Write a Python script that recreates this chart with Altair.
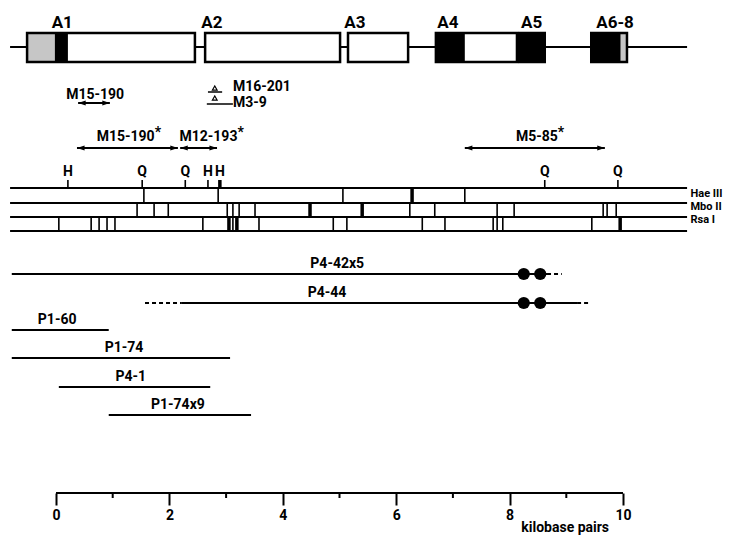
import altair as alt
import pandas as pd

# ---------------- values (kilobase pairs) ----------------
GENE_START, GENE_END = -0.81, 11.13

EXON_NAMES = ["A1", "A2", "A3", "A4", "A5", "A6-8"]
EXON_START = [-0.51, 2.63, 5.15, 6.70, 8.17, 9.44]
EXON_END = [2.45, 5.01, 6.21, 8.13, 8.62, 10.07]
EXON_LABEL_AT = [0.11, 2.75, 5.27, 6.91, 8.39, 9.86]

SHADE_START = [-0.51, -0.02, 6.70, 8.17, 9.44, 9.96]
SHADE_END = [-0.02, 0.21, 7.21, 8.62, 9.96, 10.07]
SHADE_KIND = ["stippled", "solid", "solid", "solid", "solid", "stippled"]

DEL_NAMES = ["M15-190", "M15-190", "M12-193", "M5-85"]
DEL_STAR = [False, True, True, True]
DEL_START = [0.39, 0.37, 2.19, 7.21]
DEL_END = [0.95, 2.15, 2.84, 9.68]
DEL_LABEL_AT = [0.69, 1.74, 3.20, 8.85]
DEL_ROW = ["upper", "lower", "lower", "lower"]

INS_NAMES = ["M16-201", "M3-9"]
INS_AT = [2.80, 2.80]
INS_START = [2.68, 2.66]
INS_END = [2.93, 3.12]
INS_LABEL_AT = [3.12, 3.12]

SITE_LETTERS = ["H", "Q", "Q", "H", "H", "Q", "Q"]
SITE_AT = [0.21, 1.52, 2.28, 2.68, 2.89, 8.62, 9.91]
SITE_HEAVY = [0, 0, 0, 0, 1, 0, 0]

ENZYME_NAMES = ["Hae III", "Mbo II", "Rsa I"]
HAEIII_CUTS = [1.55, 2.86, 5.06, 6.28, 7.21]
HAEIII_HEAVY = [0, 0, 0, 1, 0]
MBOII_CUTS = [1.43, 1.73, 1.98, 3.02, 3.12, 3.23, 3.51, 4.48, 5.40, 6.24,
              6.68, 7.78, 8.08, 9.65, 9.72, 9.88]
MBOII_HEAVY = [0, 0, 0, 0, 0, 0, 0, 1, 1, 0, 0, 0, 0, 0, 0, 0]
RSAI_CUTS = [0.05, 0.62, 0.76, 0.90, 1.04, 2.59, 3.05, 3.12, 3.19, 3.58,
             4.89, 5.13, 6.46, 6.86, 7.71, 7.78, 7.88, 9.45, 9.95]
RSAI_HEAVY = [0, 0, 0, 0, 0, 0, 1, 0, 1, 0, 0, 0, 0, 0, 0, 0, 0, 0, 1]

CLONE_NAMES = ["P4-42x5", "P4-44", "P1-60", "P1-74", "P4-1", "P1-74x9"]
CLONE_START = [-0.78, 2.22, -0.78, -0.78, 0.05, 0.93]
CLONE_END = [8.66, 9.19, 0.93, 3.07, 2.72, 3.44]
CLONE_LABEL_AT = [4.96, 4.78, 0.02, 1.20, 1.32, 2.15]
DASH_CLONE = ["P4-42x5", "P4-44", "P4-44"]
DASH_START = [8.66, 1.57, 9.19]
DASH_END = [8.92, 2.22, 9.42]
DOT_CLONE = ["P4-42x5", "P4-42x5", "P4-44", "P4-44"]
DOT_AT = [8.25, 8.54, 8.25, 8.54]

AXIS_LABELS = [0, 2, 4, 6, 8, 10]
AXIS_MINOR = [1, 3, 5, 7, 9]
AXIS_TITLE = "kilobase pairs"
AXIS_TITLE_AT = 8.98

# ---------------- layout (vertical rows, page pixels) ----------------
W, H = 723, 527
Y_TOP = 8
PX_PER_KB = 56.7
X_MIN = -48 / PX_PER_KB
X_MAX = X_MIN + W / PX_PER_KB
ROW = dict(exon_label=23, exon_top=33, exon_bottom=62, gene=47,
           del_upper=103, del_upper_label=95, del_lower=148, del_lower_label=137,
           ins_tri=[88, 98], ins_line=[92, 104], ins_label=[87, 103],
           site_label=172, site_tick=180, map_lines=[188, 203, 217, 231],
           enzyme_label=[194, 207, 220], enzyme_x=11.19,
           clone=[274, 303, 330, 358, 387, 415], clone_label_gap=10,
           axis=493, minor_tick=498, axis_title=528)
FONT = "Roboto, Liberation Sans, sans-serif"
INK = "black"

xs = alt.Scale(domain=[X_MIN, X_MAX], nice=False, zero=False)
ys = alt.Scale(domain=[Y_TOP, Y_TOP + H], nice=False, zero=False, reverse=True)
xaxis = alt.Axis(values=AXIS_LABELS, orient="bottom", offset=ROW["axis"] - (Y_TOP + H),
                 domain=False, grid=False, ticks=True, tickSize=12, tickWidth=2,
                 tickColor=INK, labelColor=INK, labelFont=FONT, labelFontSize=14,
                 labelFontWeight="bold", labelPadding=3, labelFlush=False,
                 labelOverlap=False, format="d", title=None)


def X(f="x"):
    return alt.X(f"{f}:Q", scale=xs, axis=xaxis)


def Yc(f="y"):
    return alt.Y(f"{f}:Q", scale=ys, axis=None)


def text(df, align="center", size=14, weight="bold", dy=0):
    return alt.Chart(df).mark_text(align=align, baseline="middle", font=FONT, fontSize=size,
                                   fontWeight=weight, color=INK, dy=dy).encode(
        x=X(), y=Yc(), text="t:N")


def rules(df, width=2, dash=None):
    kw = dict(color=INK, strokeWidth=width)
    if dash:
        kw["strokeDash"] = dash
    enc = dict(x=X(), y=Yc())
    if "x2" in df:
        enc["x2"] = alt.X2("x2")
    if "y2" in df:
        enc["y2"] = alt.Y2("y2")
    return alt.Chart(df).mark_rule(**kw).encode(**enc)


layers = []

# --- gene structure ---
layers.append(rules(pd.DataFrame({"x": [GENE_START], "x2": [GENE_END], "y": [ROW["gene"]]}), 2))
exons = pd.DataFrame({"x": EXON_START, "x2": EXON_END,
                      "y": ROW["exon_top"], "y2": ROW["exon_bottom"]})
layers.append(alt.Chart(exons).mark_rect(color="white").encode(
    x=X(), x2="x2", y=Yc(), y2="y2"))
shade = pd.DataFrame({"x": SHADE_START, "x2": SHADE_END, "k": SHADE_KIND,
                      "y": ROW["exon_top"], "y2": ROW["exon_bottom"]})
layers.append(alt.Chart(shade).mark_rect().encode(
    x=X(), x2="x2", y=Yc(), y2="y2",
    color=alt.Color("k:N", scale=alt.Scale(domain=["stippled", "solid"],
                                           range=["#c6c6c6", "black"]), legend=None)))
layers.append(alt.Chart(exons).mark_rect(fillOpacity=0, stroke=INK, strokeWidth=2.5).encode(
    x=X(), x2="x2", y=Yc(), y2="y2"))
layers.append(text(pd.DataFrame({"x": EXON_LABEL_AT, "t": EXON_NAMES, "y": ROW["exon_label"]}),
                   size=17))

# --- deletions (double arrows) ---
dels = pd.DataFrame({"name": DEL_NAMES, "star": DEL_STAR, "x": DEL_START, "x2": DEL_END,
                     "lab": DEL_LABEL_AT, "row": DEL_ROW})
dels["y"] = [ROW["del_upper"] if r == "upper" else ROW["del_lower"] for r in DEL_ROW]
dels["ly"] = [ROW["del_upper_label"] if r == "upper" else ROW["del_lower_label"] for r in DEL_ROW]
layers.append(rules(dels[["x", "x2", "y"]], 2))
HEAD_R = "M0,0L-1,-0.32L-1,0.32Z"
HEAD_L = "M0,0L1,-0.32L1,0.32Z"
layers.append(alt.Chart(pd.DataFrame({"x": DEL_START, "y": dels["y"]})).mark_point(
    shape=HEAD_L, filled=True, size=230, color=INK, opacity=1).encode(x=X(), y=Yc()))
layers.append(alt.Chart(pd.DataFrame({"x": DEL_END, "y": dels["y"]})).mark_point(
    shape=HEAD_R, filled=True, size=230, color=INK, opacity=1).encode(x=X(), y=Yc()))
plain = dels[~dels["star"]]
layers.append(text(pd.DataFrame({"x": plain["lab"], "y": plain["ly"], "t": plain["name"]})))
starred = dels[dels["star"]]
layers.append(text(pd.DataFrame({"x": starred["lab"], "y": starred["ly"], "t": starred["name"]}),
                   align="right"))
layers.append(text(pd.DataFrame({"x": starred["lab"], "y": starred["ly"], "t": "*"}),
                   align="left", size=14, dy=-4))

# --- insertions ---
ins = pd.DataFrame({"x": INS_START, "x2": INS_END, "y": ROW["ins_line"]})
layers.append(rules(ins, 1.5))
layers.append(alt.Chart(pd.DataFrame({"x": INS_AT, "y": ROW["ins_tri"]})).mark_point(
    shape="triangle-up", filled=False, size=22, color=INK, strokeWidth=1.2, opacity=1).encode(
    x=X(), y=Yc()))
layers.append(text(pd.DataFrame({"x": INS_LABEL_AT, "y": ROW["ins_label"], "t": INS_NAMES}),
                   align="left"))

# --- restriction map ---
map_lines = pd.DataFrame({"x": GENE_START, "x2": GENE_END, "y": ROW["map_lines"]})
layers.append(rules(map_lines, 2))
sites = pd.DataFrame({"x": SITE_AT, "t": SITE_LETTERS, "heavy": SITE_HEAVY})
sites["y"] = ROW["site_tick"]
sites["y2"] = ROW["map_lines"][0]
sites["w"] = [3.5 if h else 1.6 for h in SITE_HEAVY]
layers.append(alt.Chart(sites).mark_rule(color=INK).encode(
    x=X(), y=Yc(), y2="y2", strokeWidth=alt.StrokeWidth("w:Q", scale=None)))
layers.append(text(pd.DataFrame({"x": SITE_AT, "t": SITE_LETTERS, "y": ROW["site_label"]})))
cut_frames = []
for i, (cuts, heavy) in enumerate([(HAEIII_CUTS, HAEIII_HEAVY), (MBOII_CUTS, MBOII_HEAVY),
                                   (RSAI_CUTS, RSAI_HEAVY)]):
    cut_frames.append(pd.DataFrame({"x": cuts, "y": ROW["map_lines"][i],
                                    "y2": ROW["map_lines"][i + 1],
                                    "w": [3.5 if h else 1.6 for h in heavy]}))
cuts = pd.concat(cut_frames, ignore_index=True)
layers.append(alt.Chart(cuts).mark_rule(color=INK).encode(
    x=X(), y=Yc(), y2="y2", strokeWidth=alt.StrokeWidth("w:Q", scale=None)))
layers.append(text(pd.DataFrame({"x": ROW["enzyme_x"], "y": ROW["enzyme_label"],
                                 "t": ENZYME_NAMES}), align="left", size=11))

# --- clones ---
cy = dict(zip(CLONE_NAMES, ROW["clone"]))
clones = pd.DataFrame({"x": CLONE_START, "x2": CLONE_END, "y": ROW["clone"]})
layers.append(rules(clones, 2))
layers.append(rules(pd.DataFrame({"x": DASH_START, "x2": DASH_END,
                                  "y": [cy[c] for c in DASH_CLONE]}), 2, dash=[4, 3]))
layers.append(alt.Chart(pd.DataFrame({"x": DOT_AT, "y": [cy[c] for c in DOT_CLONE]})).mark_point(
    shape="circle", filled=True, size=150, color=INK, opacity=1).encode(x=X(), y=Yc()))
layers.append(text(pd.DataFrame({"x": CLONE_LABEL_AT, "t": CLONE_NAMES,
                                 "y": [v - ROW["clone_label_gap"] for v in ROW["clone"]]})))

# --- scale bar ---
layers.append(rules(pd.DataFrame({"x": [AXIS_LABELS[0]], "x2": [AXIS_LABELS[-1]],
                                  "y": [ROW["axis"]]}), 2.2))
layers.append(rules(pd.DataFrame({"x": AXIS_MINOR, "y": ROW["axis"], "y2": ROW["minor_tick"]}), 2))
layers.append(text(pd.DataFrame({"x": [AXIS_TITLE_AT], "y": [ROW["axis_title"]],
                                 "t": [AXIS_TITLE]}), size=14))

chart = alt.layer(*layers).properties(
    width=W, height=H, autosize=alt.AutoSizeParams(type="none"), padding=0,
    background="white"
).configure_view(stroke=None)

chart.save("out.html", embed_options={"renderer": "svg", "actions": False})
